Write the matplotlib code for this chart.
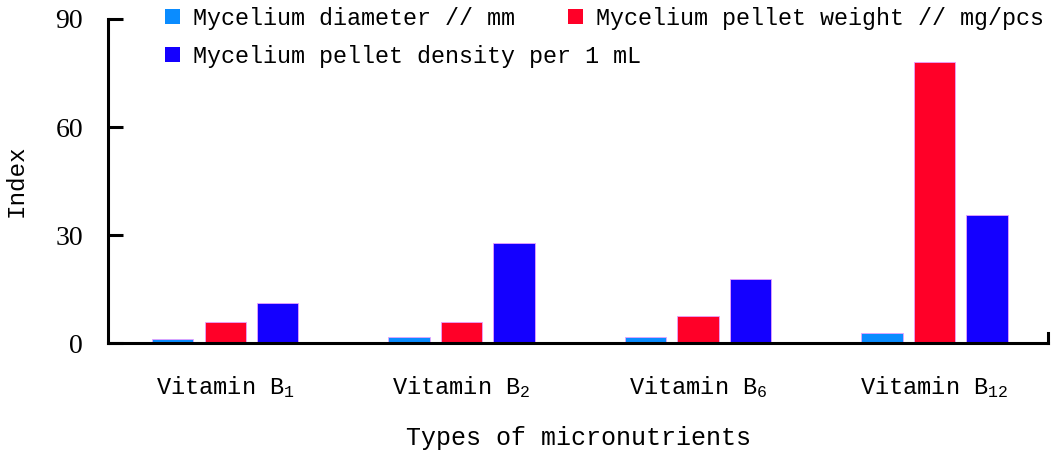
import numpy as np
import matplotlib
matplotlib.use("Agg")
import matplotlib.pyplot as plt

# values
categories = ['Vitamin B$_1$', 'Vitamin B$_2$', 'Vitamin B$_6$', 'Vitamin B$_{12}$']
diameter = [1.2, 1.7, 1.7, 2.8]
weight = [5.9, 5.9, 7.6, 78.1]
density = [11.2, 27.9, 18.0, 35.7]
series_names = ['Mycelium diameter // mm',
                'Mycelium pellet weight // mg/pcs',
                'Mycelium pellet density per 1 mL']
colors = ['#0a8cff', '#ff0028', '#1400ff']
yticks = [0, 30, 60, 90]

plt.rcParams['font.family'] = ['Liberation Mono', 'DejaVu Sans Mono']
plt.rcParams['mathtext.fontset'] = 'custom'
plt.rcParams['mathtext.rm'] = 'Liberation Mono'
plt.rcParams['mathtext.default'] = 'regular'

fig = plt.figure(figsize=(10.56, 4.61), dpi=100)
ax = fig.add_axes([0.1023, 0.2549, 0.8901, 0.7039])

x = np.arange(len(categories))
w = 0.174
step = 0.222
bars = []
for i, vals in enumerate([diameter, weight, density]):
    b = ax.bar(x + (i - 1) * step, vals, width=w, color=colors[i],
               edgecolor='#e8a0ff', linewidth=0.6, label=series_names[i])
    bars.append(b)

ax.set_xlim(-0.495, 3.48)
ax.set_ylim(0, 90)
ax.set_yticks(yticks)
ax.set_yticklabels([str(v) for v in yticks], fontfamily='Liberation Serif', fontsize=20)
ax.set_xticks(x)
ax.set_xticklabels(categories, fontsize=17)

ax.tick_params(axis='y', direction='in', length=11, width=2.2, pad=18)
ax.tick_params(axis='x', length=0, pad=22)

for s in ['left', 'bottom', 'right']:
    ax.spines[s].set_linewidth(2.2)
ax.spines['top'].set_visible(False)
ax.spines['right'].set_bounds(0, 3)

ax.set_ylabel('Index', fontsize=17.5, labelpad=20)
ax.set_xlabel('Types of micronutrients', fontsize=18, labelpad=19)

# legend: first row has two entries, second row one entry
leg_kw = dict(frameon=False, fontsize=16.8, handlelength=0.64, handleheight=0.64,
              handletextpad=0.56, borderpad=0, borderaxespad=0)
leg1 = fig.legend(handles=[bars[0], bars[1]], labels=[series_names[0], series_names[1]],
                  ncol=2, loc='center left', bbox_to_anchor=(165 / 1056, 1 - 18 / 461),
                  columnspacing=2.27, **leg_kw)
leg2 = fig.legend(handles=[bars[2]], labels=[series_names[2]],
                  loc='center left', bbox_to_anchor=(165 / 1056, 1 - 56 / 461), **leg_kw)
for leg in (leg1, leg2):
    for p in leg.get_patches():
        p.set_edgecolor('none')

fig.savefig('out.png', dpi=100)
